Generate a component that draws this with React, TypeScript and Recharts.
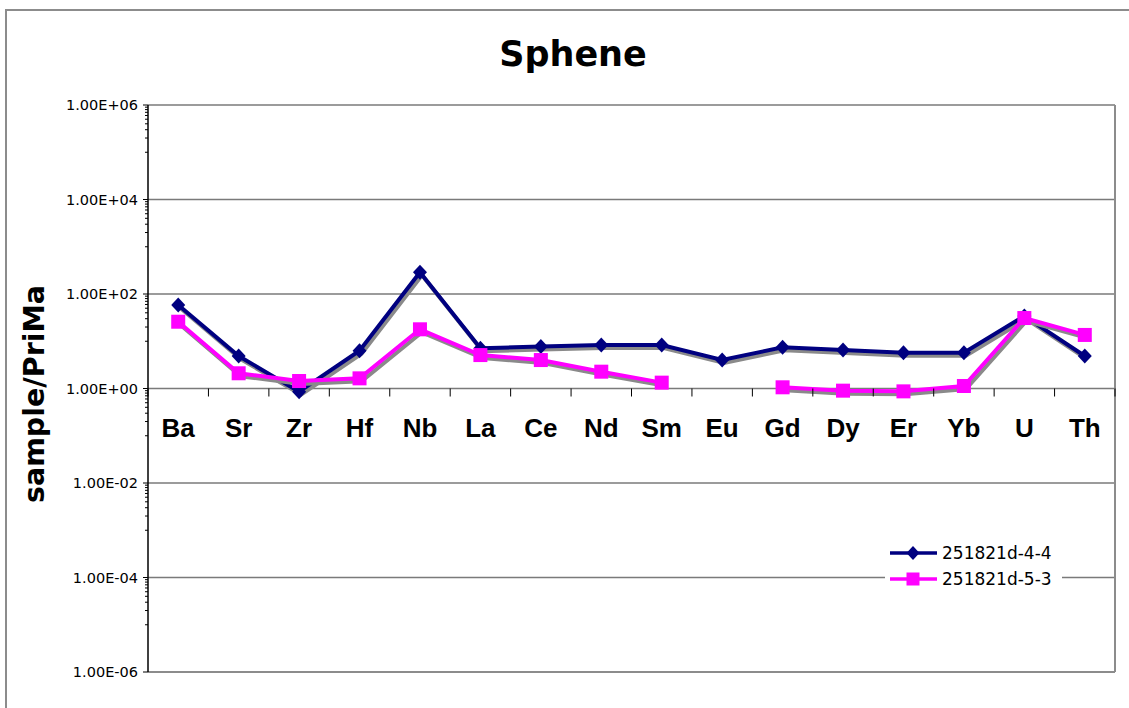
import React from "react";
import {
  CartesianGrid,
  Legend,
  Line,
  LineChart,
  XAxis,
  YAxis,
} from "recharts";

const ELEMENTS = ["Ba", "Sr", "Zr", "Hf", "Nb", "La", "Ce", "Nd", "Sm", "Eu", "Gd", "Dy", "Er", "Yb", "U", "Th"];

const S1_NAME = "251821d-4-4";
const S1 = [58.5, 4.87, 0.855, 6.3, 288, 7.1, 7.7, 8.3, 8.3, 4.0, 7.45, 6.5, 5.7, 5.7, 34.2, 4.87];

const S2_NAME = "251821d-5-3";
const S2 = [25.9, 2.1, 1.44, 1.64, 17.9, 5.1, 4.0, 2.27, 1.33, null, 1.06, 0.9, 0.87, 1.13, 31, 13.6];

const Y_TICKS = [1e-6, 1e-4, 1e-2, 1, 1e2, 1e4, 1e6];
// minor ticks, excel-style 10..90 inside each 2-decade step
const MINOR_TICKS = Y_TICKS.slice(0, -1).flatMap((t) =>
  [1, 2, 3, 4, 5, 6, 7, 8, 9].map((k) => t * 10 * k)
);

const NAVY = "#000080";
const PINK = "#FF00FF";
const FRAME = "#8c8c8c";

const W = 1129;
const H = 708;
const PLOT_LEFT = 148;
const PLOT_TOP = 105;
const PLOT_RIGHT = 1115;
const PLOT_BOTTOM = 672;
const PLOT_W = PLOT_RIGHT - PLOT_LEFT;
const PLOT_H = PLOT_BOTTOM - PLOT_TOP;
const Y_ONE = PLOT_TOP + PLOT_H / 2; // value 1 sits mid-way on the log axis
const BAND = PLOT_W / ELEMENTS.length;

const data = ELEMENTS.map((el, i) => ({ el, s1: S1[i], s2: S2[i] }));

const fmtSci = (v: number) => {
  const [m, e] = v.toExponential(2).split("e");
  const n = Number(e);
  return `${m}E${n < 0 ? "-" : "+"}${String(Math.abs(n)).padStart(2, "0")}`;
};

const YTick = (props: any) => {
  const { x, y, payload } = props;
  const major = Y_TICKS.includes(payload.value);
  return (
    <g>
      <line x1={x - (major ? 5 : 3)} x2={x} y1={y} y2={y} stroke="#000" strokeWidth={1} />
      {major && (
        <text
          x={x - 10}
          y={y}
          dy="0.36em"
          textAnchor="end"
          fontFamily="DejaVu Sans, Verdana, sans-serif"
          fontSize={14.5}
          fill="#000"
        >
          {fmtSci(payload.value)}
        </text>
      )}
    </g>
  );
};

const XTick = (props: any) => {
  const { x, payload, index } = props;
  const last = index === ELEMENTS.length - 1;
  return (
    <g>
      <line x1={x - BAND / 2} x2={x - BAND / 2} y1={Y_ONE} y2={Y_ONE + 8} stroke="#000" />
      {last && <line x1={x + BAND / 2} x2={x + BAND / 2} y1={Y_ONE} y2={Y_ONE + 8} stroke="#000" />}
      <text
        x={x}
        y={Y_ONE + 48}
        textAnchor="middle"
        fontFamily="Liberation Sans, Arial, sans-serif"
        fontWeight="bold"
        fontSize={26}
        fill="#000"
      >
        {payload.value}
      </text>
    </g>
  );
};

const Diamond = (props: any) => {
  const { cx, cy, index } = props;
  if (cx == null || cy == null) return <g key={`d-${index}`} />;
  return (
    <path
      key={`d-${index}`}
      d={`M${cx},${cy - 7.5} L${cx + 7},${cy} L${cx},${cy + 7.5} L${cx - 7},${cy} Z`}
      fill={NAVY}
    />
  );
};

const Square = (props: any) => {
  const { cx, cy, index } = props;
  if (cx == null || cy == null) return <g key={`s-${index}`} />;
  return <rect key={`s-${index}`} x={cx - 7} y={cy - 7} width={14} height={14} fill={PINK} />;
};

const LegendBox = () => {
  const rows = [
    { name: S1_NAME, color: NAVY, marker: "diamond" },
    { name: S2_NAME, color: PINK, marker: "square" },
  ];
  return (
    <div style={{ background: "#fff", width: 177 }}>
      {rows.map((r) => (
        <div key={r.name} style={{ display: "flex", alignItems: "center", height: 26 }}>
          <svg width={57} height={16} style={{ display: "block", flex: "none" }}>
            <line x1={5} x2={52} y1={8} y2={8} stroke={r.color} strokeWidth={3.5} />
            {r.marker === "diamond" ? (
              <path d="M28,1 L34.5,8 L28,15 L21.5,8 Z" fill={r.color} />
            ) : (
              <rect x={21.5} y={1.5} width={13} height={13} fill={r.color} />
            )}
          </svg>
          <span
            style={{
              fontFamily: "DejaVu Sans, Verdana, sans-serif",
              fontSize: 17,
              color: "#000",
              lineHeight: "26px",
              whiteSpace: "nowrap",
            }}
          >
            {r.name}
          </span>
        </div>
      ))}
    </div>
  );
};

export default function App() {
  return (
    <div style={{ position: "absolute", left: 0, top: 0, width: W, height: H, overflow: "hidden", background: "#fff" }}>
      <style>{`.xl-shadow { filter: drop-shadow(2px 3px 0px #8a8a8a); }`}</style>
      <div
        style={{
          position: "absolute",
          left: 5,
          top: 9,
          width: 1160,
          height: 760,
          border: `2px solid ${FRAME}`,
        }}
      />
      <div
        style={{
          position: "absolute",
          left: 0,
          width: 1146,
          top: 32,
          textAlign: "center",
          fontFamily: "DejaVu Sans, Verdana, sans-serif",
          fontWeight: "bold",
          fontSize: 35,
          lineHeight: "44px",
        }}
      >
        Sphene
      </div>
      <div
        style={{
          position: "absolute",
          left: 34,
          top: 394,
          transform: "translate(-50%, -50%) rotate(-90deg)",
          whiteSpace: "nowrap",
          fontFamily: "DejaVu Sans, Verdana, sans-serif",
          fontWeight: "bold",
          fontSize: 28.5,
        }}
      >
        sample/PriMa
      </div>
      <div style={{ position: "absolute", left: 0, top: 0 }}>
        <LineChart
          width={W}
          height={H}
          data={data}
          margin={{ top: PLOT_TOP, right: W - PLOT_RIGHT - 1, bottom: H - PLOT_BOTTOM - 1, left: PLOT_LEFT - 60 }}
        >
          <CartesianGrid vertical={false} horizontalValues={Y_TICKS} stroke="#7a7a7a" strokeWidth={1.5} />
          <XAxis
            dataKey="el"
            height={1}
            padding={{ left: BAND / 2, right: BAND / 2 }}
            axisLine={{ stroke: FRAME, strokeWidth: 2 }}
            tickLine={false}
            tick={(p: any) => <XTick {...p} />}
            interval={0}
          />
          <YAxis
            scale="log"
            type="number"
            domain={[1e-6, 1e6]}
            allowDataOverflow
            ticks={[...Y_TICKS, ...MINOR_TICKS].sort((a, b) => a - b)}
            interval={0}
            width={60}
            tickSize={0}
            tickMargin={0}
            tickLine={false}
            axisLine={{ stroke: "#000", strokeWidth: 1.5 }}
            tick={(p: any) => <YTick {...p} />}
          />
          <YAxis
            yAxisId="frame"
            orientation="right"
            scale="log"
            type="number"
            domain={[1e-6, 1e6]}
            allowDataOverflow
            width={1}
            tick={false}
            tickLine={false}
            axisLine={{ stroke: FRAME, strokeWidth: 2 }}
          />
          <Legend
            layout="horizontal"
            align="center"
            verticalAlign="middle"
            wrapperStyle={{ left: 885, top: 540, width: 177 }}
            content={() => <LegendBox />}
          />
          <Line
            className="xl-shadow"
            name={S1_NAME}
            dataKey="s1"
            stroke={NAVY}
            strokeWidth={4}
            dot={Diamond}
            activeDot={false}
            isAnimationActive={false}
          />
          <Line
            className="xl-shadow"
            name={S2_NAME}
            dataKey="s2"
            stroke={PINK}
            strokeWidth={4}
            dot={Square}
            activeDot={false}
            isAnimationActive={false}
          />
        </LineChart>
      </div>
    </div>
  );
}
